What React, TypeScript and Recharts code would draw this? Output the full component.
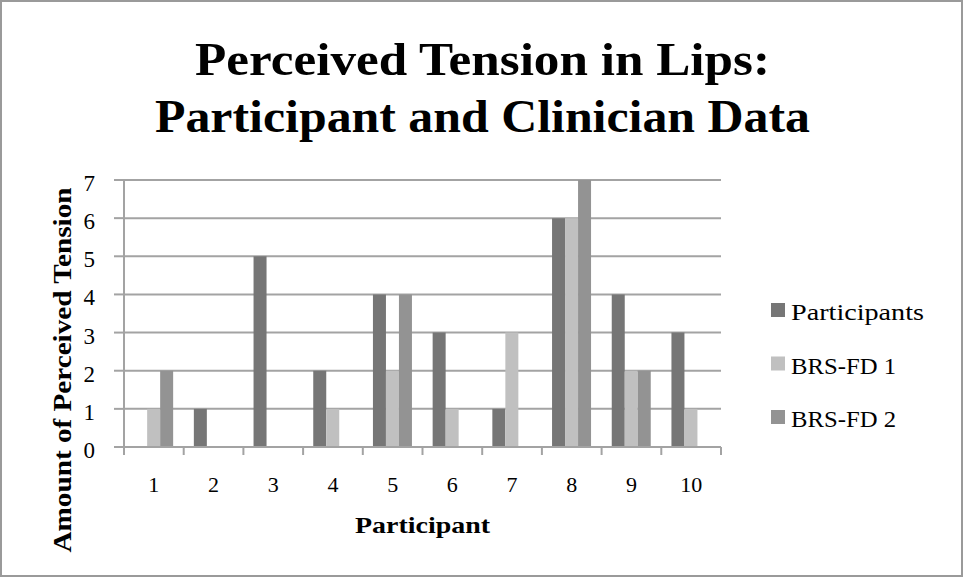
import React from 'react';
import { BarChart, Bar, XAxis, YAxis, CartesianGrid, Legend } from 'recharts';

const participants = ['1', '2', '3', '4', '5', '6', '7', '8', '9', '10'];
const participantScores = [0, 1, 5, 2, 4, 3, 1, 6, 4, 3];
const brsFd1 = [1, 0, 0, 1, 2, 1, 3, 6, 2, 1];
const brsFd2 = [2, 0, 0, 0, 4, 0, 0, 7, 2, 0];
const yTicks = [0, 1, 2, 3, 4, 5, 6, 7];

const seriesNames = ['Participants', 'BRS-FD 1', 'BRS-FD 2'];
const seriesColors = ['#767676', '#c0c0c0', '#939393'];
const legendWidths = [133, 105, 105];

const data = participants.map((p, i) => ({
  participant: p,
  [seriesNames[0]]: participantScores[i],
  [seriesNames[1]]: brsFd1[i],
  [seriesNames[2]]: brsFd2[i],
}));

const GRID = '#a3a3a3';
const FONT = '"Liberation Serif", "DejaVu Serif", serif';

// ticks sit between categories, like the original spreadsheet chart
const XTick = (props: any) => {
  const { x, y, payload, index, width, visibleTicksCount } = props;
  const band = (width || 597) / (visibleTicksCount || 10);
  const left = x - band / 2;
  return (
    <g>
      <line x1={left} x2={left} y1={y - 8} y2={y} stroke={GRID} strokeWidth={2} />
      {index === participants.length - 1 && (
        <line x1={x + band / 2} x2={x + band / 2} y1={y - 8} y2={y} stroke={GRID} strokeWidth={2} />
      )}
      <text x={x} y={y + 37} textAnchor="middle" fontFamily={FONT} fontSize={22} fill="#000">
        {payload.value}
      </text>
    </g>
  );
};

const YTick = (props: any) => {
  const { x, y, payload } = props;
  return (
    <text x={x} y={y + 11} textAnchor="end" fontFamily={FONT} fontSize={23} fill="#000">
      {payload.value}
    </text>
  );
};

const LegendContent = () => (
  <svg width={190} height={170}>
    {seriesNames.map((n, i) => (
      <g key={n}>
        <rect x={2} y={13 + i * 53.5} width={14} height={14} fill={seriesColors[i]} />
        <text x={22} y={30 + i * 53.5} fontFamily={FONT} fontSize={23} fill="#000"
          textLength={legendWidths[i]} lengthAdjust="spacingAndGlyphs">
          {n}
        </text>
      </g>
    ))}
  </svg>
);

export default function App() {
  return (
    <div style={{ position: 'absolute', left: 0, top: 0, width: 963, height: 577, background: '#fff' }}>
      <BarChart
        width={963}
        height={577}
        data={data}
        margin={{ top: 180, right: 242, bottom: 0, left: 0 }}
        barCategoryGap="17%"
        barGap={0}
      >
        <rect x={1} y={1} width={961} height={575} fill="none" stroke="#9a9a9a" strokeWidth={2} />
        <CartesianGrid vertical={false} stroke={GRID} strokeWidth={2} />
        <XAxis
          dataKey="participant"
          height={130}
          axisLine={{ stroke: GRID, strokeWidth: 2 }}
          tickLine={false}
          tick={<XTick />}
          interval={0}
        />
        <YAxis
          width={124}
          domain={[0, 7]}
          ticks={yTicks}
          interval={0}
          axisLine={{ stroke: GRID, strokeWidth: 2 }}
          tickLine={{ stroke: GRID, strokeWidth: 2 }}
          tickSize={10}
          tickMargin={19}
          tick={<YTick />}
        />
        <Legend
          layout="vertical"
          align="center"
          verticalAlign="middle"
          content={<LegendContent />}
          wrapperStyle={{ left: 769, top: 290, width: 190, height: 170 }}
        />
        {seriesNames.map((n, i) => (
          <Bar key={n} dataKey={n} fill={seriesColors[i]} isAnimationActive={false} />
        ))}
        <text x={482.5} y={75} textAnchor="middle" fontFamily={FONT} fontWeight="bold" fontSize={46}
          textLength={575} lengthAdjust="spacingAndGlyphs" fill="#000">
          Perceived Tension in Lips:
        </text>
        <text x={482.5} y={132} textAnchor="middle" fontFamily={FONT} fontWeight="bold" fontSize={46}
          textLength={655} lengthAdjust="spacingAndGlyphs" fill="#000">
          Participant and Clinician Data
        </text>
        <text x={422.5} y={533} textAnchor="middle" fontFamily={FONT} fontWeight="bold" fontSize={24}
          textLength={135} lengthAdjust="spacingAndGlyphs" fill="#000">
          Participant
        </text>
        <text x={71} y={370} textAnchor="middle" fontFamily={FONT} fontWeight="bold" fontSize={25}
          textLength={365} lengthAdjust="spacingAndGlyphs" fill="#000" transform="rotate(-90 71 370)">
          Amount of Perceived Tension
        </text>
      </BarChart>
    </div>
  );
}
